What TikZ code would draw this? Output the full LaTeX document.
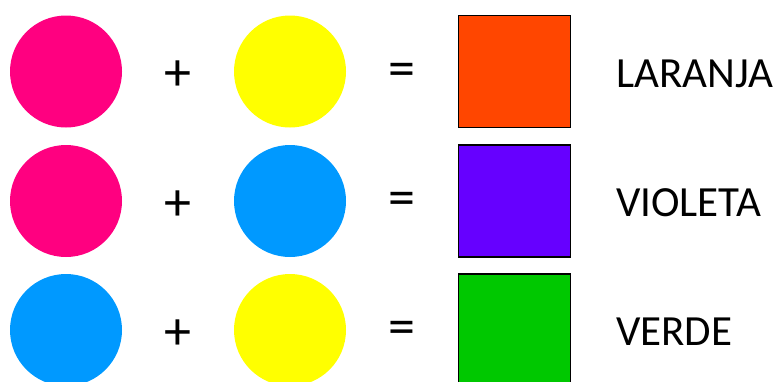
\documentclass[tikz,border=0pt]{standalone}
\usepackage{fontspec}
\setmainfont{Carlito}
\usepackage{tikz}
\usetikzlibrary{positioning}
\definecolor{magcol}{RGB}{255,0,128}
\definecolor{yelcol}{RGB}{255,255,0}
\definecolor{cyacol}{RGB}{0,153,255}
\definecolor{orgcol}{RGB}{255,70,0}
\definecolor{viocol}{RGB}{102,0,255}
\definecolor{grecol}{RGB}{0,200,0}

\begin{document}
\begin{tikzpicture}[x=1pt, y=-1pt,
  dot/.style={circle, minimum size=112pt, inner sep=0pt},
  sq/.style={rectangle, draw=black, line width=1.6pt, minimum size=112pt, inner sep=0pt},
  op/.style={font=\fontsize{54}{54}\selectfont, inner sep=0pt},
  lbl/.style={anchor=base west, font=\fontsize{43}{43}\selectfont, inner sep=0pt},
]
\useasboundingbox (0,0) rectangle (775,381);
% linha 1
\node[dot, fill=magcol] (A1) at (66,71.5) {};
\node[op] (P1) at (178,76) {+};
\node[dot, fill=yelcol] (B1) at (290,71.5) {};
\node[op] (E1) at (402,74.5) {=};
\node[sq, fill=orgcol] (S1) at (514.5,71.5) {};
\node[lbl] (T1) at (616,87) {LARANJA};
% linha 2
\node[dot, fill=magcol] (A2) at (66,201) {};
\node[op] (P2) at (178,205.5) {+};
\node[dot, fill=cyacol] (B2) at (290,201) {};
\node[op] (E2) at (402,204) {=};
\node[sq, fill=viocol] (S2) at (514.5,201) {};
\node[lbl] (T2) at (616,216.5) {VIOLETA};
% linha 3
\node[dot, fill=cyacol] (A3) at (66,330) {};
\node[op] (P3) at (178,334.5) {+};
\node[dot, fill=yelcol] (B3) at (290,330) {};
\node[op] (E3) at (402,333) {=};
\node[sq, fill=grecol] (S3) at (514.5,330) {};
\node[lbl] (T3) at (616,345.5) {VERDE};
\end{tikzpicture}
\end{document}
